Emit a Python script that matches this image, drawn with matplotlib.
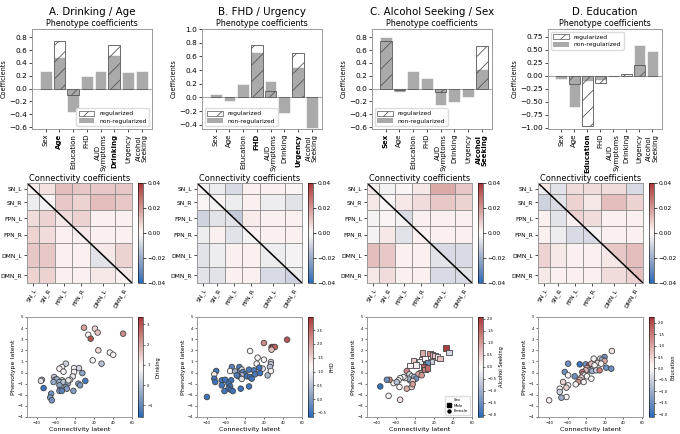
import numpy as np
import matplotlib
matplotlib.use("Agg")
import matplotlib.pyplot as plt
import seaborn as sns
from matplotlib.patches import Patch
from matplotlib.lines import Line2D

# --- categories / labels ---
pheno_names = ["Sex", "Age", "Education", "FHD", "AUD\nSymptoms", "Drinking", "Urgency", "Alcohol\nSeeking"]
net_names = ["SN_L", "SN_R", "FPN_L", "FPN_R", "DMN_L", "DMN_R"]
net_sizes = [7, 10, 10, 11, 15, 10]
panel_titles = ["A. Drinking / Age", "B. FHD / Urgency", "C. Alcohol Seeking / Sex", "D. Education"]
bold_A = ["Age", "Drinking"]
bold_B = ["FHD", "Urgency"]
bold_C = ["Sex", "Alcohol\nSeeking"]
bold_D = ["Education"]

# --- phenotype coefficients ---
nonreg_A = [0.28, 0.50, -0.36, 0.20, 0.28, 0.52, 0.26, 0.28]
reg_A = [0.0, 0.74, -0.10, 0.0, 0.0, 0.68, 0.0, 0.0]
nonreg_B = [0.05, -0.05, 0.19, 0.66, 0.24, -0.22, 0.45, -0.45]
reg_B = [0.0, 0.0, 0.0, 0.76, 0.10, 0.0, 0.65, 0.0]
nonreg_C = [0.81, -0.05, 0.28, 0.17, -0.26, -0.21, -0.13, 0.31]
reg_C = [0.75, -0.02, 0.0, 0.0, -0.06, 0.0, 0.0, 0.66]
nonreg_D = [-0.06, -0.60, -0.10, -0.08, 0.005, 0.02, 0.60, 0.48]
reg_D = [0.0, -0.15, -0.97, -0.14, 0.0, 0.03, 0.21, 0.0]

# --- connectivity coefficients, mean per network block
# (above diagonal = upper triangle, below = lower triangle)
conn_A = [[0, .005, .012, .010, .010, .010],
          [-.004, 0, .010, .008, .012, .010],
          [.006, .008, 0, .008, .002, .002],
          [.008, .006, .002, 0, .002, .002],
          [.010, .010, .002, .002, 0, .008],
          [.008, .008, .002, .002, .004, 0]]
diag_up_A = [.003, .000, .006, .004, .004, .004]
diag_lo_A = [.000, -.003, .004, .002, -.006, .002]

conn_B = [[0, -.004, -.008, .002, .002, .000],
          [.000, 0, -.004, .002, -.004, -.006],
          [-.010, -.006, 0, .003, .002, .002],
          [-.004, .002, -.006, 0, .002, .002],
          [-.006, -.004, .002, .002, 0, -.002],
          [-.006, -.006, .002, .002, -.008, 0]]
diag_up_B = [-.002, .000, -.012, .002, -.004, -.004]
diag_lo_B = [.000, -.002, -.006, -.002, -.004, -.010]

conn_C = [[0, -.002, .000, .004, .016, .010],
          [.004, 0, .004, .006, .010, .008],
          [-.002, .000, 0, .002, .002, .002],
          [-.002, .004, -.006, 0, .002, .002],
          [.012, .010, .002, .002, 0, -.008],
          [.004, .006, .002, .002, -.008, 0]]
diag_up_C = [.002, .000, -.008, .002, -.008, -.006]
diag_lo_C = [.004, .000, -.002, .002, -.006, -.008]

conn_D = [[0, -.006, .006, .006, .006, -.008],
          [-.010, 0, .008, .004, .012, .008],
          [.002, -.006, 0, .006, .002, .002],
          [.002, -.004, -.008, 0, .002, .002],
          [.008, .004, .002, .002, 0, .012],
          [.004, .002, .002, .002, .006, 0]]
diag_up_D = [.004, -.006, .008, -.002, .010, .012]
diag_lo_D = [-.004, -.008, .002, -.008, .004, .008]

# --- latent scores ---
lat_conn_A = [9.7, 21.2, 24.0, 14.2, 16.7, 50.7, 24.7, 36.8, 40.3, 18.8, 28.1, -9.4, -13.2, -16.0, -0.7, 4.5,
              -11.8, -0.7, 8.0, -2.1, -4.9, -21.5, -20.5, -18.8, -13.2, -16.0, -34.4, -35.4, -22.2, -11.8,
              -7.3, 3.8, 5.6, 11.1, -16.0, -9.4, -8.3, -15.3, -16.0, -13.5, -32.6, -1.4, -24.7, -25.7, -24.0, -6.6]
lat_pheno_A = [4.04, 3.95, 3.6, 3.4, 3.05, 3.5, 2.0, 1.8, 1.6, 1.1, 0.8, 0.8, 0.5, 0.35, 0.4, 0.4,
               0.08, 0.05, -0.05, -0.35, -0.65, -0.4, -0.65, -0.6, -0.7, -0.85, -0.65, -0.75, -0.85, -0.85,
               -1.0, -1.0, -1.15, -0.75, -1.15, -1.3, -1.45, -1.55, -1.65, -1.65, -1.4, -1.65, -1.9, -2.25, -2.5, -0.7]
drinking_A = [2.0, 1.3, 1.6, 0.9, 3.0, 2.3, 1.3, 0.9, 0.9, 0.9, 0.0, 0.3, 0.8, 0.9, 0.7, 0.3,
              0.8, 0.8, -0.5, 0.6, 0.8, 0.1, -0.6, -0.4, 0.2, -0.3, 0.1, 0.5, -0.4, 0.0,
              -0.4, -0.6, -0.7, -1.3, -0.5, -0.6, -0.6, -0.8, -0.7, -1.1, -1.4, -0.6, -0.8, -0.7, -0.8, 0.6]

lat_conn_B = [44.4, 20.1, 28.1, 29.9, 31.6, 28.1, 5.6, 13.5, 20.1, 12.5, 27.4, 27.4, 18.8, 26.4, 27.4, 24.0,
              -13.5, -15.3, -10.1, -5.6, -4.9, -3.1, -2.1, 4.5, 0.3, -3.1, -6.6, -8.3, 2.1, 5.6,
              9.7, 10.8, 15.3, 16.0, 7.3, -3.1, -29.9, -31.9, -31.9, -30.9, -24.0, -20.5, -14.2,
              -17.0, -15.3, -24.0, -17.0, -14.6, -21.2, -12.5, -4.2, 4.5, -39.6]
lat_pheno_B = [2.96, 2.66, 2.3, 2.3, 2.3, 2.06, 1.94, 1.34, 1.16, 0.8, 0.95, 0.74, 0.35, 0.5, 0.14, -0.25,
               0.5, 0.14, 0.1, 0.5, 0.14, 0.26, 0.05, 0.26, -0.16, -0.25, -0.34, -0.25, -0.34, -0.4,
               0.2, -0.16, 0.44, -0.05, -0.55, -0.58, 0.14, -0.16, -0.55, -0.85, -0.7, -0.65, -0.7,
               -1.0, -1.25, -1.15, -1.45, -1.55, -1.67, -1.67, -1.45, -1.25, -2.2]
fhd_B = [2.7, 2.2, 2.8, 2.7, 2.6, 1.7, 1.1, 1.1, 1.1, 1.1, 0.6, 0.6, 0.9, 0.5, 1.1, 0.4,
         -0.3, 1.1, 0.3, -0.4, -0.3, 0.9, -0.3, -0.4, -0.5, 0.4, -0.5, -0.4, -0.5, -0.5,
         -0.4, -0.4, -0.5, -0.5, -0.5, 0.8, -0.5, 1.3, -0.5, -0.5, -0.5, -0.5, -0.5,
         -0.5, -0.5, -0.5, -0.5, -0.5, -0.5, -0.5, -0.5, -0.5, -0.5]

lat_conn_C = [32.6, 36.1, 8.3, 16.0, 18.8, 21.2, 24.0, 26.4, 17.7, 7.3, -1.4, 5.6, 10.8, -4.9, 1.4, 11.8, 13.2, 9.7, 10.8, 13.2,
              -8.3, 5.6, 3.8, 7.3, -5.6, -3.1, -0.7, 1.4, -4.9, -6.6, -2.1, -10.1, -11.8, -15.3, -17.0, -22.2,
              -18.8, -26.4, -29.2, -16.0, -8.3, -3.1, -2.1, -36.1, -27.4, -15.3]
lat_pheno_C = [2.2, 1.8, 1.76, 1.7, 1.6, 1.55, 1.4, 1.25, 1.0, 1.15, 1.05, 1.0, 1.25, 0.65, 0.7, 0.74, 0.86, 0.5, 0.26, 0.4,
               0.14, -0.05, -0.16, -0.25, -0.16, -0.34, -0.4, -0.55, -0.7, -0.55, -0.76, -0.5, -0.4, -0.5, -0.7, -0.95,
               -0.85, -0.65, -0.65, -1.3, -1.45, -1.3, -1.05, -1.25, -2.1, -2.45]
seeking_C = [2.0, -0.5, 0.8, 1.2, 0.8, 0.5, 0.2, 0.6, -0.6, 0.0, 0.5, -0.2, 0.0, 0.0, 0.1, -1.8, -1.5, 1.6, 1.3, 1.5,
             1.2, 1.0, 0.8, 1.0, -0.5, 0.0, -1.0, -1.5, -0.8, -1.0, 0.5, 0.0, -0.3, 0.0, 0.0, 0.0,
             -0.8, 1.3, -1.5, 0.0, 0.8, 0.4, 1.0, -2.0, 0.0, 0.2]
sex_C = list("MMMMMMMMMMMMMMMMMMMM" "FFFFFFFFFFFFFFFFFFFFFFFFFF")

lat_conn_D = [27.5, 19.6, 15.0, 16.8, 7.9, 19.6, 12.5, 16.0, 21.4, 26.8, -19.6, -7.1, -0.7, 2.9, 5.4,
              8.9, 0.7, 3.6, 6.4, 10.7, 14.3, -0.7, -4.3, -23.2, -12.5, -19.6, -3.6, -1.8, 0.7, -5.4,
              -7.1, 5.4, -2.9, -8.9, -11.4, -25.0, -19.6, -21.4, -28.6, -28.6, -21.4, -26.8, -40.0]
lat_pheno_D = [1.94, 1.4, 1.25, 1.16, 1.25, 1.04, 0.86, 0.8, 0.44, 0.35, 0.8, 0.74, 0.74, 0.65, 0.8,
               0.65, 0.4, 0.2, 0.14, 0.2, 0.2, 0.2, 0.05, 0.05, -0.34, -0.25, -0.16, -0.25, -0.34, -0.46,
               -0.65, -0.55, -0.85, -0.85, -1.06, -0.85, -1.15, -1.36, -1.45, -1.75, -2.2, -2.26, -2.5]
edu_D = [0.3, -1.5, 0.0, -1.0, 0.0, 1.0, 0.3, 0.0, -1.5, -1.5, -1.5, -2.0, -1.5, 2.0, 0.8,
         0.0, 1.0, -1.2, -1.0, -0.5, 1.5, 0.8, 1.5, -1.5, -1.5, 0.0, 1.3, 0.0, 0.0, 0.5,
         0.8, 0.0, 0.0, 1.2, 0.0, 0.5, 0.0, 0.5, 0.0, -0.5, 0.0, -1.0, 0.2]

color_names = ["Drinking", "FHD", "Alcohol Seeking", "Education"]
clim_A, clim_B, clim_C, clim_D = (-1.57, 3.36), (-0.65, 2.98), (-2.1, 2.07), (-2.12, 2.25)
cticks_A = [-1, 0, 1, 2, 3]
cticks_B = [-0.5, 0.0, 0.5, 1.0, 1.5, 2.0, 2.5]
cticks_C = [-2.0, -1.5, -1.0, -0.5, 0.0, 0.5, 1.0, 1.5, 2.0]
cticks_D = [-2.0, -1.5, -1.0, -0.5, 0.0, 0.5, 1.0, 1.5, 2.0]

# --- layout (pixels) ---
W, H = 680, 434
fig = plt.figure(figsize=(W / 100, H / 100), dpi=100)
cmap = sns.color_palette("vlag", as_cmap=True)
SPINE = "#999999"


def px_axes(l, t, r, b):
    return fig.add_axes([l / W, 1 - b / H, (r - l) / W, (b - t) / H])


def style_spines(ax, color=SPINE, lw=0.7):
    for s in ax.spines.values():
        s.set_color(color)
        s.set_linewidth(lw)


def build_matrix(conn, diag_up, diag_lo):
    conn = np.array(conn)
    up = np.triu(conn, 1) + np.diag(diag_up)
    lo = np.tril(conn, -1) + np.diag(diag_lo)
    up_full = np.repeat(np.repeat(up, net_sizes, axis=0), net_sizes, axis=1)
    lo_full = np.repeat(np.repeat(lo, net_sizes, axis=0), net_sizes, axis=1)
    return np.triu(up_full, 1) + np.tril(lo_full, -1)


bar_left = [32, 202, 372, 548]
bar_right = [152, 322, 492, 662]
mat_left = [27, 197, 367, 538]
mat_right = [132, 302, 472, 643]

bars = [(nonreg_A, reg_A, bold_A, (-0.63, 0.93), [-0.6, -0.4, -0.2, 0.0, 0.2, 0.4, 0.6, 0.8], "lower right"),
        (nonreg_B, reg_B, bold_B, (-0.46, 1.0), [-0.4, -0.2, 0.0, 0.2, 0.4, 0.6, 0.8, 1.0], "lower left"),
        (nonreg_C, reg_C, bold_C, (-0.63, 0.93), [-0.6, -0.4, -0.2, 0.0, 0.2, 0.4, 0.6, 0.8], "lower left"),
        (nonreg_D, reg_D, bold_D, (-1.02, 0.90), [-1.0, -0.75, -0.5, -0.25, 0.0, 0.25, 0.5, 0.75], "upper left")]
mats = [(conn_A, diag_up_A, diag_lo_A), (conn_B, diag_up_B, diag_lo_B),
        (conn_C, diag_up_C, diag_lo_C), (conn_D, diag_up_D, diag_lo_D)]
scat = [(lat_conn_A, lat_pheno_A, drinking_A, clim_A, cticks_A),
        (lat_conn_B, lat_pheno_B, fhd_B, clim_B, cticks_B),
        (lat_conn_C, lat_pheno_C, seeking_C, clim_C, cticks_C),
        (lat_conn_D, lat_pheno_D, edu_D, clim_D, cticks_D)]
scat_xlim = [(-50, 60), (-50, 60), (-50, 60), (-52, 61)]

plt.rcParams["hatch.linewidth"] = 0.6

for k in range(4):
    # ---- phenotype bar chart ----
    nonreg, reg, bold, ylim, yticks, legloc = bars[k]
    ax = px_axes(bar_left[k], 29, bar_right[k], 129)
    x = np.arange(len(pheno_names))
    ax.axhline(0, color="#aaaaaa", lw=0.8, zorder=1)
    ax.bar(x, nonreg, width=0.85, color="#aaaaaa", edgecolor="white", linewidth=0.4, zorder=2)
    ax.bar(x, reg, width=0.85, fill=False, hatch="//", edgecolor="#555555", linewidth=0.6, zorder=3)
    ax.set_xlim(-1.0, 7.75)
    ax.set_ylim(*ylim)
    ax.set_yticks(yticks)
    ax.set_xticks(x)
    ax.set_xticklabels(pheno_names, rotation=90, fontsize=5.0, linespacing=0.95)
    for lbl, name in zip(ax.get_xticklabels(), pheno_names):
        if name in bold:
            lbl.set_fontweight("bold")
    ax.tick_params(axis="y", labelsize=5.3, length=2, width=0.5, pad=1.5)
    ax.tick_params(axis="x", length=2, width=0.5, pad=1.5)
    ax.set_ylabel("Coefficients", fontsize=4.7, labelpad=2)
    ax.set_title("Phenotype coefficients", fontsize=5.8, pad=2)
    style_spines(ax)
    handles = [Patch(facecolor="white", edgecolor="#555555", hatch="//", linewidth=0.5, label="regularized"),
               Patch(facecolor="#aaaaaa", label="non-regularized")]
    ax.legend(handles=handles, loc=legloc, fontsize=4.3, handlelength=2.6, handleheight=0.9,
              borderpad=0.4, labelspacing=0.3, framealpha=1, edgecolor="#dddddd")
    cx = (bar_left[k] + bar_right[k]) / 2 / W
    fig.text(cx, 1 - 12 / H, panel_titles[k], ha="center", va="center", fontsize=7.4)

    # ---- connectivity heatmap ----
    mat = build_matrix(*mats[k])
    n = mat.shape[0]
    ax = px_axes(mat_left[k], 183, mat_right[k], 283)
    im = ax.imshow(mat, cmap=cmap, vmin=-0.04, vmax=0.04, aspect="auto", interpolation="nearest")
    edges = np.cumsum(net_sizes)
    for e in edges[:-1]:
        ax.axhline(e - 0.5, color="#888888", lw=0.6)
        ax.axvline(e - 0.5, color="#888888", lw=0.6)
    ax.plot([-0.5, n - 0.5], [-0.5, n - 0.5], color="black", lw=1.1)
    centers = edges - np.array(net_sizes) / 2 - 0.5
    ax.set_xticks(centers)
    ax.set_yticks(centers)
    ax.set_xticklabels(net_names, rotation=60, ha="right", rotation_mode="anchor", fontsize=4.3)
    ax.set_yticklabels(net_names, fontsize=4.3)
    ax.tick_params(length=2, width=0.5, pad=1.5)
    ax.set_title("Connectivity coefficients", fontsize=5.9, pad=1.5)
    style_spines(ax)
    cax = px_axes(mat_right[k] + 6, 183, mat_right[k] + 11, 283)
    cb = fig.colorbar(im, cax=cax, ticks=[-0.04, -0.02, 0.0, 0.02, 0.04])
    cb.ax.tick_params(labelsize=4.3, length=2, width=0.5, pad=1.5)
    cb.outline.set_linewidth(0.4)

    # ---- latent scatter ----
    lx, ly, cval, clim, cticks = scat[k]
    ax = px_axes(mat_left[k], 317, mat_right[k], 417)
    if k == 2:
        lx, ly, cval = np.array(lx), np.array(ly), np.array(cval)
        sex = np.array(sex_C)
        for code, marker in [("M", "s"), ("F", "o")]:
            m = sex == code
            sc = ax.scatter(lx[m], ly[m], c=cval[m], cmap=cmap, vmin=clim[0], vmax=clim[1], s=16,
                            marker=marker, edgecolors="#444444", linewidths=0.6)
        leg = [Line2D([0], [0], marker="s", color="none", markerfacecolor="black", markersize=2.2, label="Male"),
               Line2D([0], [0], marker="o", color="none", markerfacecolor="black", markersize=2.2, label="Female")]
        ax.legend(handles=leg, loc="lower right", title="Sex", fontsize=2.8, title_fontsize=2.8,
                  handlelength=1.0, borderpad=0.5, labelspacing=0.4, framealpha=1, edgecolor="#dddddd")
    else:
        sc = ax.scatter(lx, ly, c=cval, cmap=cmap, vmin=clim[0], vmax=clim[1], s=16,
                        edgecolors="#444444", linewidths=0.6)
    ax.set_xlim(*scat_xlim[k])
    ax.set_ylim(-4, 5)
    ax.set_xticks([-40, -20, 0, 20, 40, 60])
    ax.set_yticks([-4, -3, -2, -1, 0, 1, 2, 3, 4, 5])
    ax.tick_params(labelsize=2.7, length=1.5, width=0.4, pad=1.5)
    ax.set_xlabel("Connectivity latent", fontsize=4.6, labelpad=1)
    ax.set_ylabel("Phenotype latent", fontsize=4.6, labelpad=1)
    style_spines(ax)
    cax = px_axes(mat_right[k] + 6, 317, mat_right[k] + 11, 417)
    cb = fig.colorbar(sc, cax=cax, ticks=cticks)
    cb.ax.tick_params(labelsize=2.7, length=1.5, width=0.4, pad=1.5)
    cb.set_label(color_names[k], fontsize=3.7, labelpad=2)
    cb.outline.set_linewidth(0.4)

fig.savefig("out.png", dpi=100)
